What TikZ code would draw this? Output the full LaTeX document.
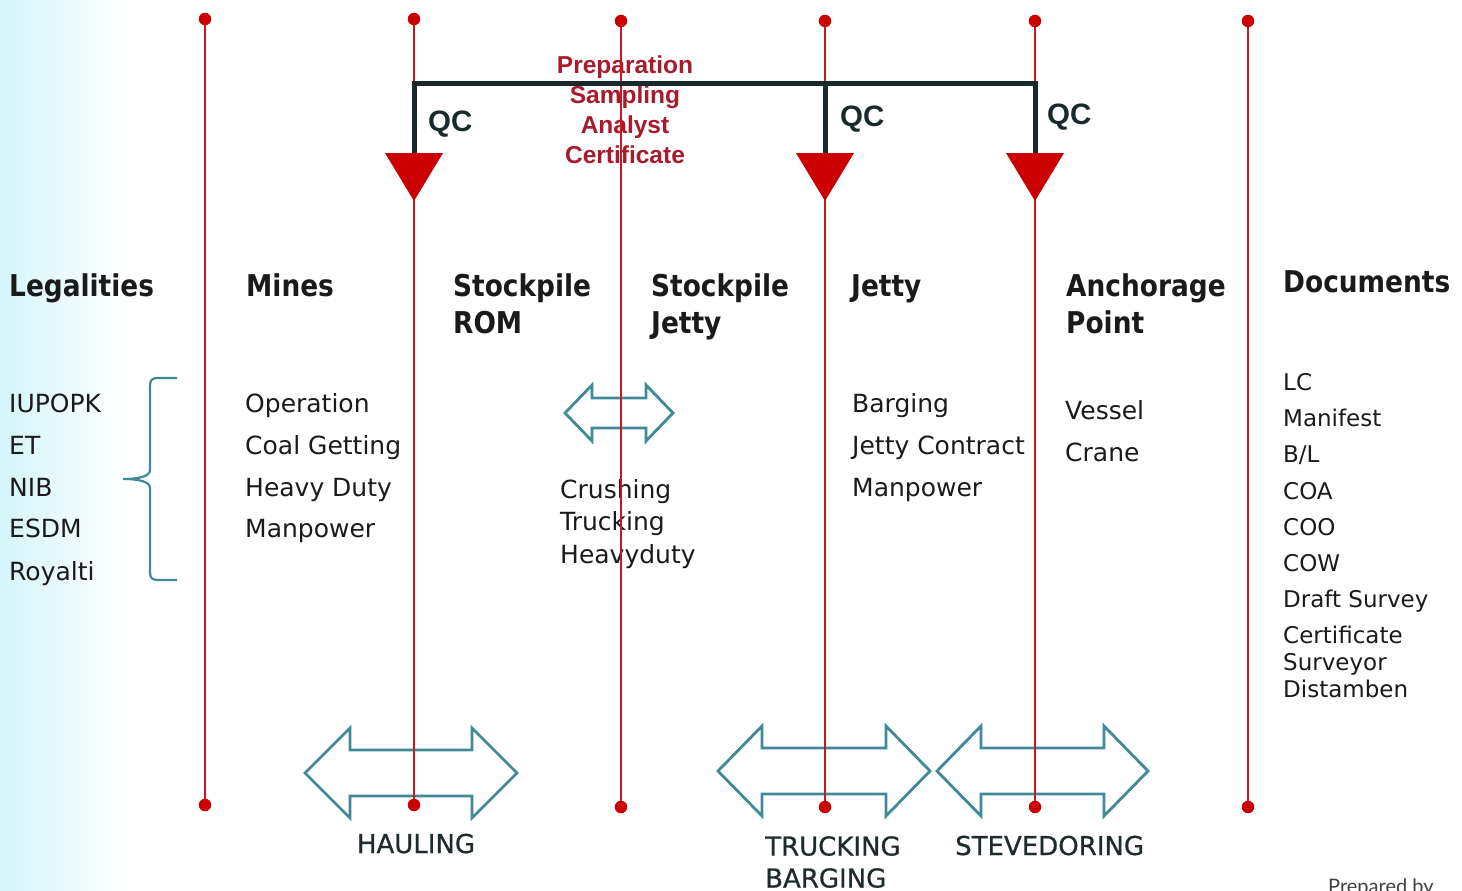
\documentclass[tikz,border=0pt]{standalone}
\usepackage{fontspec}
\setmainfont{DejaVu Sans}
\newfontfamily\qcfont{Liberation Sans}
\newfontfamily\headfont[FakeStretch=0.88]{DejaVu Sans}
\newfontfamily\flowfont[FakeBold=0.7]{DejaVu Sans}
\newfontfamily\notefont{Lato}
\usetikzlibrary{positioning,calc}

\begin{document}
\begin{tikzpicture}[x=1pt,y=-1pt,
    dot/.style={circle,fill=rdot,inner sep=0pt,minimum size=12.5pt},
    rline/.style={draw=rline,line width=2.2pt},
    qcline/.style={draw=qcblack,line width=5pt},
    head/.style={anchor=north west,inner sep=0pt,align=left,text=txt,font=\headfont\bfseries\fontsize{30}{37}\selectfont},
    item/.style={anchor=base west,inner sep=0pt,text=txt,font=\fontsize{25}{30}\selectfont},
    docitem/.style={anchor=base west,inner sep=0pt,text=txt,font=\fontsize{23}{27}\selectfont},
    flow/.style={inner sep=0pt,text=lbl,font=\flowfont\fontsize{26}{32}\selectfont},
    qc/.style={anchor=base west,inner sep=0pt,text=qcblack,font=\qcfont\bfseries\fontsize{29.5}{30}\selectfont},
    dblarrow/.style={draw=teal2,line width=2.8pt,line join=miter}]
    %colores
    \colorlet{rdot}{red!80!black}
    \colorlet{rline}{red!75!black!90!white}
    \definecolor{qcblack}{HTML}{1A2A2C}
    \definecolor{prep}{HTML}{A81A2C}
    \definecolor{teal2}{HTML}{3F8A96}
    \definecolor{txt}{HTML}{1A1A1A}
    \definecolor{lbl}{HTML}{1E2A2C}
    \definecolor{bgcyan}{HTML}{D4F5FA}

    \useasboundingbox (0,0) rectangle (1462,891);
    % fondo
    \shade[left color=bgcyan,right color=white] (0,0) rectangle (125,891);

    % titulos
    \node[head] (legal) at (9,274) {Legalities};
    \node[head] (mines) at (246,274) {Mines};
    \node[head] (rom) at (453,274) {Stockpile\\ROM};
    \node[head] (sjetty) at (651,274) {Stockpile\\Jetty};
    \node[head] (jetty) at (851,274) {Jetty};
    \node[head] (anchor) at (1066,274) {Anchorage\\Point};
    \node[head] (docs) at (1283,270) {Documents};

    % listas
    \foreach \n/\y/\t in {1/412/IUPOPK, 2/454/ET, 3/496/NIB, 4/537/ESDM, 5/580/Royalti}
        \node[item] (leg\n) at (9,\y) {\t};
    \foreach \n/\y/\t in {1/412/Operation, 2/454/Coal Getting, 3/496/Heavy Duty, 4/537/Manpower}
        \node[item] (min\n) at (245,\y) {\t};
    \foreach \n/\y/\t in {1/498/Crushing, 2/530/Trucking, 3/563/Heavyduty}
        \node[item] (stp\n) at (560,\y) {\t};
    \foreach \n/\y/\t in {1/412/Barging, 2/454/Jetty Contract, 3/496/Manpower}
        \node[item] (jet\n) at (852,\y) {\t};
    \foreach \n/\y/\t in {1/419/Vessel, 2/461/Crane}
        \node[item] (anc\n) at (1065,\y) {\t};
    \foreach \n/\y/\t in {1/390/LC, 2/426/Manifest, 3/462/{B/L}, 4/499/COA, 5/535/COO, 6/571/COW,
                          7/607/Draft Survey, 8/643/Certificate, 9/670/Surveyor, 10/697/Distamben}
        \node[docitem] (doc\n) at (1283,\y) {\t};

    % llave
    \draw[teal2,line width=2.2pt] (177,378) -- (158,378) .. controls (152,378) and (150,380) .. (150,386)
        -- (150,470) .. controls (150,476) and (140,479) .. (123,479)
        .. controls (140,479) and (150,482) .. (150,488) -- (150,572)
        .. controls (150,578) and (152,580) .. (158,580) -- (177,580);

    % texto de QC
    \node[inner sep=0pt,anchor=north,align=center,text=prep,
          font=\qcfont\bfseries\fontsize{24.5}{30}\selectfont] (prepnote) at (625,56)
          {Preparation\\Sampling\\Analyst\\Certificate};

    % flechas dobles
    \foreach \cx/\cy/\hl/\hh/\sh/\hd in {411/773/106/45/23/45, 824/771/106/45/23/44,
                                         1042.5/771/105.5/45/23/44, 619/413/54/28/15/27}
        \draw[dblarrow] (\cx-\hl,\cy) -- (\cx-\hl+\hd,\cy-\hh) -- (\cx-\hl+\hd,\cy-\sh)
            -- (\cx+\hl-\hd,\cy-\sh) -- (\cx+\hl-\hd,\cy-\hh) -- (\cx+\hl,\cy)
            -- (\cx+\hl-\hd,\cy+\hh) -- (\cx+\hl-\hd,\cy+\sh) -- (\cx-\hl+\hd,\cy+\sh)
            -- (\cx-\hl+\hd,\cy+\hh) -- cycle;

    % etiquetas de transporte
    \node[flow,anchor=base] (haul) at (416,853) {HAULING};
    \node[flow,anchor=north west,align=left] (truck) at (765,836) {TRUCKING\\BARGING};
    \node[flow,anchor=base west] (steve) at (955,855) {STEVEDORING};

    % lineas rojas
    \foreach \n/\x/\ya/\yb in {1/205/19/805, 2/414/19/805, 3/621/21/807,
                               4/825/21/807, 5/1035/21/807, 6/1248/21/807}{
        \node[dot] (t\n) at (\x,\ya) {};
        \node[dot] (b\n) at (\x,\yb) {};
        \draw[rline] (t\n) -- (b\n);
    }

    % corchete QC
    \coordinate (q1) at (414,84);
    \coordinate (q2) at (825,84);
    \coordinate (q3) at (1035,84);
    \foreach \i in {1,2,3}
        \coordinate (k\i) at ($(q\i)+(0,70)$);
    \draw[qcline] (k1) -- (q1) -- (q3) -- (k3);
    \draw[qcline] (q2) -- (k2);
    \foreach \x in {414,825,1035}
        \fill[rdot] (\x-29,153) -- (\x+29,153) -- (\x,201) -- cycle;
    \node[qc] (qc1) at (428,131) {QC};
    \node[qc] (qc2) at (840,126) {QC};
    \node[qc] (qc3) at (1047,124) {QC};

    % nota
    \node[anchor=base west,inner sep=0pt,text=black!75,font=\notefont\fontsize{20}{24}\selectfont]
        (prepared) at (1328,893) {Prepared by};
\end{tikzpicture}
\end{document}
